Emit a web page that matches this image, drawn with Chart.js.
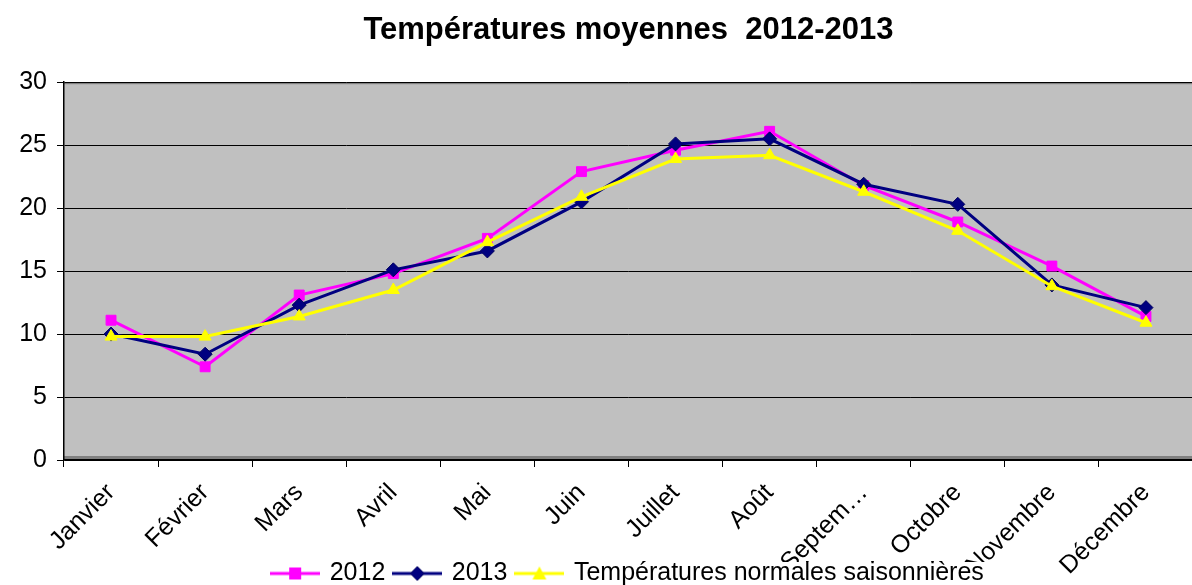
<!DOCTYPE html>
<html>
<head>
<meta charset="utf-8">
<script src="https://cdn.jsdelivr.net/npm/chart.js@4.4.0/dist/chart.umd.min.js"></script>
<style>
html,body{margin:0;padding:0;background:#fff;overflow:hidden;}
#wrap{width:1192px;height:585px;position:relative;overflow:hidden;}
canvas{display:block;}
</style>
</head>
<body>
<div id="wrap"><canvas id="c" width="1201" height="585"></canvas></div>
<script>
const months = ['Janvier','Février','Mars','Avril','Mai','Juin','Juillet','Août','Septem…','Octobre','Novembre','Décembre'];
const values2012 = [11.1, 7.4, 13.1, 14.8, 17.6, 22.9, 24.6, 26.1, 21.8, 18.9, 15.4, 11.4];
const values2013 = [10.0, 8.4, 12.3, 15.1, 16.6, 20.5, 25.1, 25.5, 21.9, 20.3, 13.9, 12.1];
const valuesNormales = [9.8, 9.8, 11.4, 13.5, 17.3, 20.9, 23.9, 24.2, 21.3, 18.2, 13.8, 10.9];
const seriesNames = ['2012', '2013', 'Températures normales saisonnières'];
const seriesColors = ['#FF00FF', '#000080', '#FFFF00'];
const seriesMarkers = ['rect', 'rectRot', 'triangle'];
const yTicks = [0, 5, 10, 15, 20, 25, 30];

const FONT = '"Liberation Sans", Arial, sans-serif';

function legendIcon(color, marker) {
  const cv = document.createElement('canvas');
  cv.width = 50; cv.height = 20;
  const g = cv.getContext('2d');
  g.strokeStyle = color; g.lineWidth = 3;
  g.beginPath(); g.moveTo(0, 10); g.lineTo(50, 10); g.stroke();
  g.fillStyle = color;
  g.beginPath();
  if (marker === 'rect') { g.rect(19, 4, 12, 12); }
  else if (marker === 'rectRot') { g.moveTo(25, 3); g.lineTo(32, 10); g.lineTo(25, 17); g.lineTo(18, 10); g.closePath(); }
  else { g.moveTo(25, 3); g.lineTo(32, 16); g.lineTo(18, 16); g.closePath(); }
  g.fill();
  if (marker === 'rectRot') { g.strokeStyle = '#000060'; g.lineWidth = 1; g.stroke(); }
  return cv;
}

const plotBg = {
  id: 'plotBg',
  afterLayout(chart) {
    // let the rotated month labels run below the axis box (they overlap the legend area in the original)
    chart.scales.x.bottom = chart.height;
  },
  beforeDraw(chart) {
    const {ctx, chartArea: a} = chart;
    ctx.save();
    ctx.fillStyle = '#C0C0C0';
    ctx.fillRect(a.left, a.top, a.right - a.left, a.bottom - a.top);
    ctx.fillStyle = '#808080';
    ctx.fillRect(a.left, a.top, a.right - a.left, 2);
    ctx.fillRect(a.left, a.bottom - 4, a.right - a.left, 4);
    ctx.restore();
  },
  beforeDatasetsDraw(chart) {
    // legend box sits above the axis labels, with a white background (as in the original)
    const lg = chart.legend;
    if (!lg || !lg.legendHitBoxes || !lg.legendHitBoxes.length) return;
    const hb = lg.legendHitBoxes;
    const first = hb[0], last = hb[hb.length - 1];
    const {ctx} = chart;
    ctx.save();
    ctx.fillStyle = '#fff';
    const top = first.top + 1;
    ctx.fillRect(first.left - 6, top, last.left + last.width - first.left + 14, chart.height - top);
    ctx.restore();
    lg.draw();
  }
};

const datasets = seriesNames.map((name, i) => ({
  label: name,
  data: [values2012, values2013, valuesNormales][i],
  borderColor: seriesColors[i],
  backgroundColor: seriesColors[i],
  pointStyle: seriesMarkers[i],
  pointRadius: 7,
  pointBorderColor: i === 1 ? '#000060' : seriesColors[i],
  pointBorderWidth: 1,
  borderWidth: 3,
  tension: 0,
  order: 3 - i
}));

new Chart(document.getElementById('c'), {
  type: 'line',
  data: { labels: months, datasets },
  plugins: [plotBg],
  options: {
    responsive: false,
    animation: false,
    layout: { padding: { left: 0, right: 0, top: 0, bottom: -11 } },
    plugins: {
      tooltip: { enabled: false },
      title: {
        display: true,
        text: 'Températures moyennes  2012-2013',
        color: '#000',
        fullSize: false,
        font: { family: FONT, size: 31, weight: 'bold', lineHeight: 1.2 },
        padding: { top: 12, bottom: 33 }
      },
      legend: {
        position: 'bottom',
        fullSize: false,
        labels: {
          usePointStyle: true,
          pointStyleWidth: 44,
          padding: 10,
          color: '#000',
          font: { family: FONT, size: 25 },
          generateLabels() {
            return seriesNames.map((n, i) => ({
              text: n,
              pointStyle: legendIcon(seriesColors[i], seriesMarkers[i]),
              fillStyle: seriesColors[i],
              strokeStyle: seriesColors[i],
              lineWidth: 0,
              hidden: false,
              datasetIndex: i,
              fontColor: '#000'
            }));
          }
        }
      }
    },
    scales: {
      x: {
        offset: true,
        grid: { offset: true, drawOnChartArea: false, color: '#000', tickLength: 7, lineWidth: 1 },
        border: { color: '#000', width: 1.5 },
        ticks: {
          color: '#000',
          font: { family: FONT, size: 25 },
          maxRotation: 45, minRotation: 45,
          autoSkip: false,
          padding: 11
        },
        afterFit(s) { s.height = 91; s.paddingLeft = 0; s.paddingRight = 0; }
      },
      y: {
        min: 0, max: 30,
        afterBuildTicks(s) { s.ticks = yTicks.map(v => ({ value: v })); },
        grid: { color: '#000', lineWidth: 1, tickLength: 7 },
        border: { color: '#000', width: 1.5 },
        ticks: { color: '#000', font: { family: FONT, size: 25 }, padding: 10 },
        afterFit(s) { s.width = 64; }
      }
    }
  }
});
</script>
</body>
</html>
